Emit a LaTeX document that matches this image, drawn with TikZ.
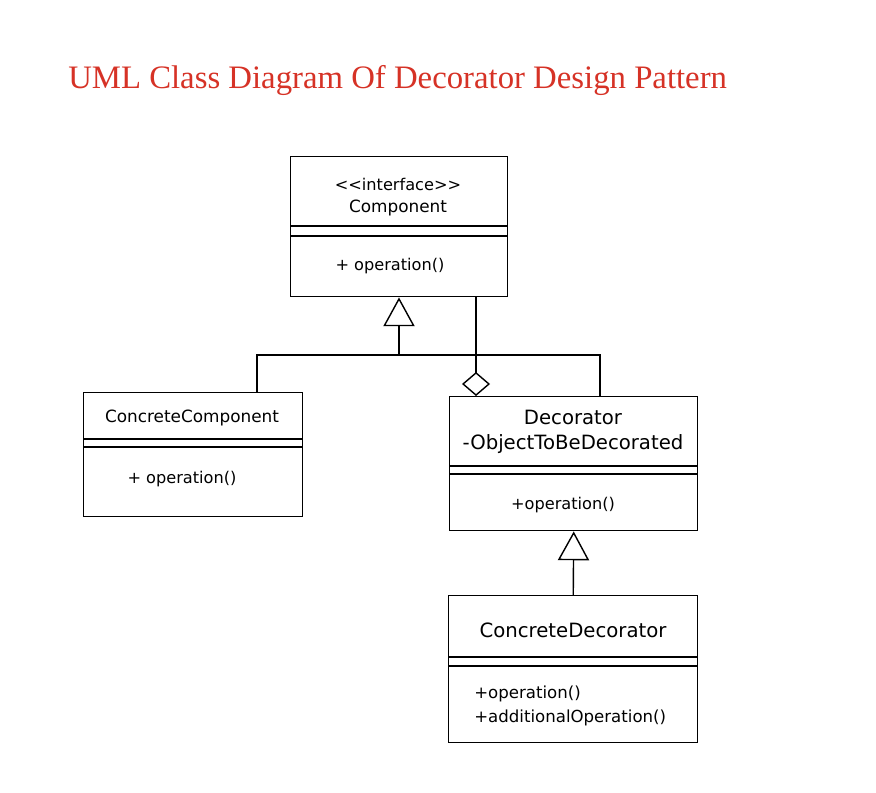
\documentclass[tikz,border=0pt]{standalone}
\usepackage{fontspec}
\setmainfont{DejaVu Sans}
\newfontfamily\titlefont{Liberation Serif}
\usetikzlibrary{positioning}
\usetikzlibrary{arrows.meta}

\definecolor{titlered}{RGB}{214,50,38}

\tikzset{
    classbox/.style={rectangle, draw=black, line width=1pt, anchor=north west, inner sep=0pt},
    optext/.style={inner sep=0pt, font=\fontsize{11.5}{14}\selectfont},
    inherit/.style={-{Triangle[open, length=0.72cm, width=0.78cm]}, line width=1pt},
    aggregate/.style={{Diamond[open, length=0.6cm, width=0.7cm]}-, line width=1pt}
}

\begin{document}
\begin{tikzpicture}[x=0.025cm, y=-0.025cm]
    \useasboundingbox (0,0) rectangle (876,793);

    \node (title) [anchor=base west, inner sep=0pt, text=titlered, font=\titlefont\fontsize{23.3}{28}\selectfont] at (68,89) {UML Class Diagram Of Decorator Design Pattern};

    % interface
    \node (comp) [classbox, minimum width=5.425cm, minimum height=3.5cm] at (290,156) {};
    \draw [line width=1pt] (290,226) -- (507,226) (290,236) -- (507,236);
    \node (compname) [optext, align=center] at (398,197) {\textless\kern0pt\textless\kern0pt interface\textgreater\kern0pt\textgreater\\[2pt]{\fontsize{12}{14}\selectfont Component}};
    \node (compop) [optext] at (390,266) {+ operation()};

    % concrete component
    \node (ccomp) [classbox, minimum width=5.475cm, minimum height=3.1cm] at (83,392) {};
    \draw [line width=1pt] (83,439) -- (302,439) (83,447) -- (302,447);
    \node (ccompname) [optext, font=\fontsize{12}{14}\selectfont] at (192,418) {ConcreteComponent};
    \node (ccompop) [optext] at (182,479) {+ operation()};

    % decorator
    \node (deco) [classbox, minimum width=6.2cm, minimum height=3.35cm] at (449,396) {};
    \draw [line width=1pt] (449,466) -- (697,466) (449,474) -- (697,474);
    \node (deconame) [inner sep=0pt, align=center, font=\fontsize{14}{18}\selectfont] at (573,432) {Decorator\\-ObjectToBeDecorated};
    \node (decoop) [optext] at (563,505) {+operation()};

    % concrete decorator
    \node (cdeco) [classbox, minimum width=6.225cm, minimum height=3.675cm] at (448,595) {};
    \draw [line width=1pt] (448,657) -- (697,657) (448,666) -- (697,666);
    \node (cdeconame) [inner sep=0pt, font=\fontsize{14}{17}\selectfont] at (573,630) {ConcreteDecorator};
    \node (cdecoop) [optext, anchor=west, align=left, font=\fontsize{11.8}{17}\selectfont] at (474,706) {+operation()\\+additionalOperation()};

    \coordinate (jn) at (399,355);
    \coordinate (jl) at (257,355);
    \coordinate (jr) at (600,355);
    \coordinate (ag) at (476,296);

    \draw [inherit] (jn) -- (jn |- comp.south);
    \draw [line width=1pt] (jl |- ccomp.north) -- (jl) -- (jr) -- (jr |- deco.north);
    \draw [aggregate] (deco.north -| ag) -- (ag |- comp.south);
    \draw [inherit] (cdeco.north) -- (deco.south);
\end{tikzpicture}
\end{document}
